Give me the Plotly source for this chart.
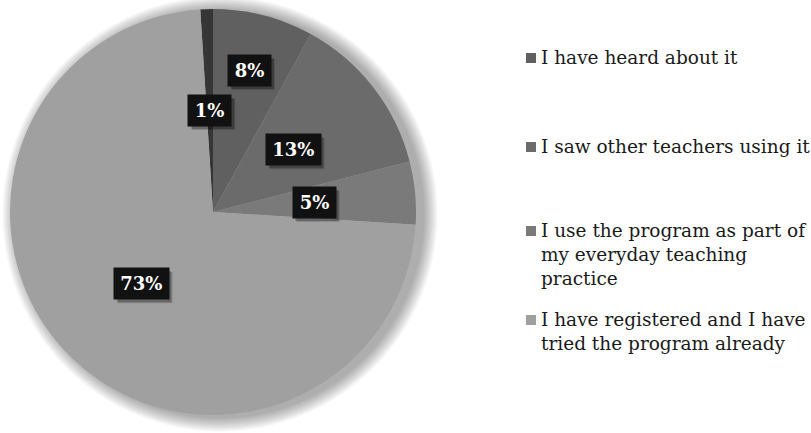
import math
import plotly.graph_objects as go

# Survey answers, drawn clockwise from just left of 12 o'clock
labels = [
    "I have never heard about it",
    "I have heard about it",
    "I saw other teachers using it",
    "I use the program as part of my everyday teaching practice",
    "I have registered and I have tried the program already",
]
values = [1, 8, 13, 5, 73]
colors = ["#363636", "#606060", "#6b6b6b", "#7a7a7a", "#a0a0a0"]

# Legend rows (the first answer is not listed)
legend_rows = [
    "I have heard about it",
    "I saw other teachers using it",
    "I use the program as part of<br>my everyday teaching<br>practice",
    "I have registered and I have<br>tried the program already",
]
legend_colors = colors[1:]

W, H = 811, 433
CX, CY, R = 213, 212, 203          # pie centre and radius, px
START = -3.6                       # degrees clockwise from 12 o'clock
label_radius = [0.5, 0.72, 0.5, 0.5, 0.5]


def px(x):
    return x / W


def py(y):
    return 1 - y / H


fig = go.Figure()
fig.add_trace(go.Pie(
    labels=labels,
    values=values,
    sort=False,
    direction="clockwise",
    rotation=START,
    textinfo="none",
    hoverinfo="label+percent",
    marker=dict(colors=colors, line=dict(width=0)),
    showlegend=False,
    domain=dict(x=[px(CX - R), px(CX + R)], y=[py(CY + R), py(CY - R)]),
))

shapes = []
# soft drop shadow falling to the right of the pie
for i in range(9, 0, -1):
    rr = R + i * 1.6
    ox, oy = 7, 2
    shapes.append(dict(
        type="circle", xref="paper", yref="paper", layer="below",
        x0=px(CX + ox - rr), x1=px(CX + ox + rr),
        y0=py(CY + oy + rr), y1=py(CY + oy - rr),
        fillcolor="rgba(0,0,0,0.04)", line=dict(width=0),
    ))

annotations = []
total = sum(values)
cum = 0.0
BOX_H = 31
for v, f in zip(values, label_radius):
    mid = START + 360 * (cum + v / 2) / total
    cum += v
    a = math.radians(mid)
    x = CX + f * R * math.sin(a)
    y = CY - f * R * math.cos(a)
    txt = f"{round(100 * v / total)}%"
    w = 20 + 11.5 * len(txt)
    # shadow behind the value box
    for s, alpha in ((4, 0.15), (3, 0.25)):
        shapes.append(dict(
            type="rect", xref="paper", yref="paper",
            x0=px(x - w / 2 + s), x1=px(x + w / 2 + s),
            y0=py(y + BOX_H / 2 + s), y1=py(y - BOX_H / 2 + s),
            fillcolor=f"rgba(0,0,0,{alpha})", line=dict(width=0),
        ))
    annotations.append(dict(
        xref="paper", yref="paper", x=px(x), y=py(y),
        xanchor="center", yanchor="middle", showarrow=False,
        width=w, height=BOX_H, borderpad=0, text=txt,
        bgcolor="#111111",
        font=dict(family="DejaVu Serif", size=18, color="white", weight="bold"),
    ))

# legend
legend_y = [58, 147, 231, 320]
for txt, col, ly in zip(legend_rows, legend_colors, legend_y):
    shapes.append(dict(
        type="rect", xref="paper", yref="paper",
        x0=px(526), x1=px(536), y0=py(ly + 5), y1=py(ly - 5),
        fillcolor=col, line=dict(width=0),
    ))
    annotations.append(dict(
        xref="paper", yref="paper", x=px(539), y=py(ly - 13),
        xanchor="left", yanchor="top", align="left", showarrow=False,
        text=txt, font=dict(family="DejaVu Serif", size=18.5, color="#1a1a1a"),
    ))

fig.update_layout(
    width=W, height=H,
    margin=dict(l=0, r=0, t=0, b=0),
    paper_bgcolor="white", plot_bgcolor="white",
    shapes=shapes, annotations=annotations,
)

fig.write_html("out.html")
